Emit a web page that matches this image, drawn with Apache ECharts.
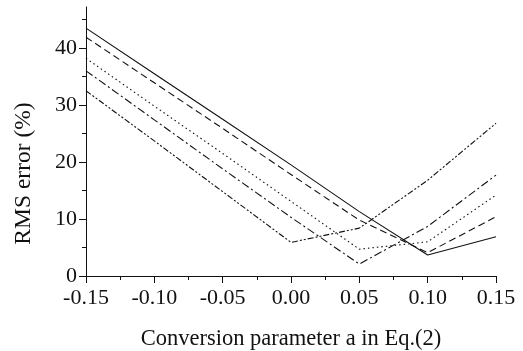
<!DOCTYPE html>
<html>
<head>
<meta charset="utf-8">
<script src="https://cdn.jsdelivr.net/npm/echarts@6/dist/echarts.min.js"></script>
<style>
html, body { margin: 0; padding: 0; background: #fff; }
#main { width: 523px; height: 351px; }
</style>
</head>
<body>
<div id="main"></div>
<script>
// conversion parameter a
var xs = [-0.15, -0.10, -0.05, 0.00, 0.05, 0.10, 0.15];
// RMS error (%) for the five curves
var solid = [43.5, 35.5, 27.5, 19.5, 11.3, 3.7, 6.9];
var dashed = [41.9, 33.9, 25.9, 17.8, 9.8, 4.1, 10.4];
var dotted = [38.2, 29.8, 21.5, 13.1, 4.7, 6.0, 14.2];
var dashDot = [36.0, 27.4, 18.8, 10.3, 2.1, 8.7, 17.7];
var dashDotDot = [32.5, 23.7, 14.8, 5.9, 8.4, 16.8, 26.8];
var yMajor = [0, 10, 20, 30, 40];
var yMinor = [5, 15, 25, 35, 45];

var font = '"Liberation Serif", "Times New Roman", serif';
var myChart = echarts.init(document.getElementById('main'));

function pairs(ys) {
	var out = [];
	for (var i = 0; i < xs.length; i++) {
		out.push([xs[i], ys[i]]);
	}
	return out;
}

function line(ys, type) {
	return {
		type : 'line',
		data : pairs(ys),
		symbol : 'none',
		silent : true,
		lineStyle : { color : '#111', width : 1.1, type : type }
	};
}

var option = {
	animation : false,
	grid : { left : 86, right : 27, top : 7, bottom : 75, outerBoundsMode : 'none', containLabel : false },
	xAxis : {
		type : 'value',
		min : -0.15,
		max : 0.15,
		interval : 0.05,
		name : 'Conversion parameter a in Eq.(2)',
		nameLocation : 'middle',
		nameGap : 52,
		nameTextStyle : { fontFamily : font, fontSize : 22.5, color : '#111' },
		axisLine : { onZero : false, lineStyle : { color : '#111', width : 1 } },
		axisTick : { show : true, length : 7, lineStyle : { color : '#111' } },
		minorTick : { show : true, splitNumber : 2, length : 4, lineStyle : { color : '#111' } },
		splitLine : { show : false },
		axisLabel : {
			fontFamily : font, fontSize : 22, color : '#111', margin : 11,
			formatter : function (v) { return v.toFixed(2); }
		}
	},
	yAxis : [
		{
			type : 'value',
			min : 0,
			max : 47.2,
			name : 'RMS error (%)',
			nameLocation : 'middle',
			nameGap : 50,
			nameTextStyle : { fontFamily : font, fontSize : 23.5, color : '#111', padding : [0, 64, 0, 0] },
			axisLine : { show : true, onZero : false, lineStyle : { color : '#111', width : 1 } },
			axisTick : { show : true, length : 7, customValues : yMajor, lineStyle : { color : '#111' } },
			splitLine : { show : false },
			axisLabel : { fontFamily : font, fontSize : 22, color : '#111', margin : 9, customValues : yMajor }
		},
		{
			type : 'value',
			position : 'left',
			min : 0,
			max : 47.2,
			axisLine : { show : false, onZero : false },
			axisTick : { show : true, length : 4, customValues : yMinor, lineStyle : { color : '#111' } },
			axisLabel : { show : false },
			splitLine : { show : false }
		}
	],
	series : [
		line(solid, 'solid'),
		line(dashed, [7, 4]),
		line(dotted, [1.5, 3]),
		line(dashDot, [8, 3, 2, 3]),
		line(dashDotDot, [6, 2, 2, 2, 2, 2])
	]
};
myChart.setOption(option);
</script>
</body>
</html>
